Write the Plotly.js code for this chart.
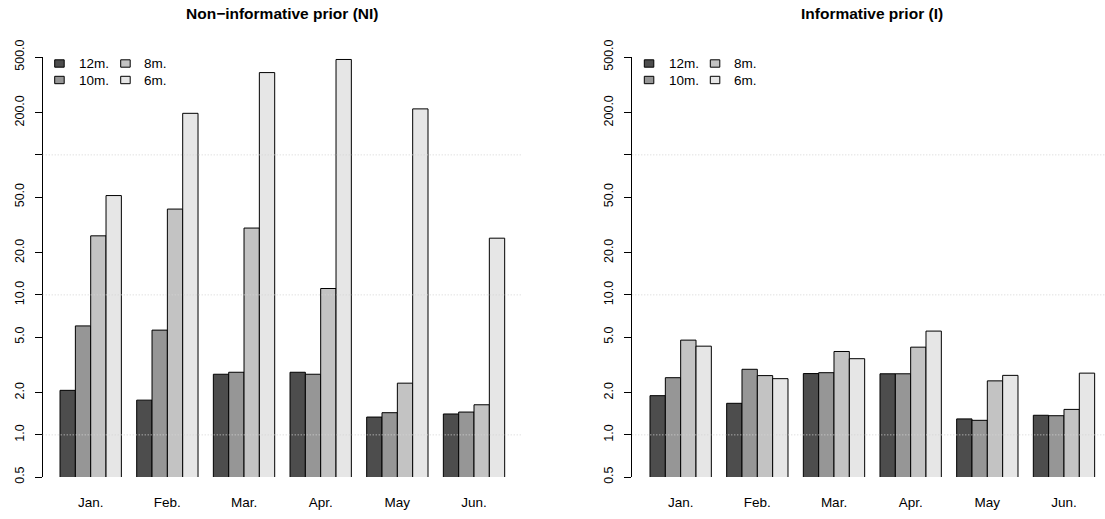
<!DOCTYPE html>
<html>
<head>
<meta charset="utf-8">
<script src="https://cdn.plot.ly/plotly-3.0.1.min.js"></script>
<style>
  html, body { margin: 0; padding: 0; background: #ffffff; }
  #chart { width: 1105px; height: 519px; }
</style>
</head>
<body>
<div id="chart"></div>
<script>
// Month groups and forecast horizons
const months = ['Jan.', 'Feb.', 'Mar.', 'Apr.', 'May', 'Jun.'];
const horizons = ['12m.', '10m.', '8m.', '6m.'];

// Non-informative prior (NI)
const ni12 = [2.08, 1.77, 2.71, 2.80, 1.34, 1.41];
const ni10 = [6.0, 5.6, 2.80, 2.71, 1.44, 1.455];
const ni8  = [26.4, 41.0, 30.0, 11.1, 2.34, 1.64];
const ni6  = [51.2, 198.0, 387.0, 480.0, 213.0, 25.4];

// Informative prior (I)
const in12 = [1.905, 1.68, 2.74, 2.73, 1.30, 1.38];
const in10 = [2.56, 2.94, 2.78, 2.73, 1.27, 1.37];
const in8  = [4.75, 2.65, 3.94, 4.23, 2.43, 1.52];
const in6  = [4.30, 2.52, 3.50, 5.51, 2.66, 2.76];

// Log-scale tick positions and their printed labels
const yTickVals = [0.5, 1, 2, 5, 10, 20, 50, 100, 200, 500];
const yTickText = ['0.5', '1.0', '2.0', '5.0', '10.0', '20.0', '50.0', '', '200.0', '500.0'];
const gridVals = [1, 10, 100];

const fills = ['#4D4D4D', '#969696', '#C3C3C3', '#E6E6E6'];
const FONT = 'Liberation Sans, Arial, Helvetica, sans-serif';

const W = 1105, H = 519;
const MT = 57, MB = 42;
const plotH = H - MT - MB;
const axisLeftPx = [42.7, 632.3];
const axisRightPx = [520.7, 1105];

const panels = [
  { series: [ni12, ni10, ni8, ni6], xa: 'x', ya: 'y', title: 'Non\u2212informative prior (NI)', titleX: 281.7 },
  { series: [in12, in10, in8, in6], xa: 'x2', ya: 'y2', title: 'Informative prior (I)', titleX: 871.5 }
];

const traces = [];
panels.forEach(function (p) {
  p.series.forEach(function (vals, k) {
    traces.push({
      type: 'bar',
      x: months,
      y: vals,
      name: horizons[k],
      xaxis: p.xa,
      yaxis: p.ya,
      showlegend: false,
      marker: { color: fills[k], line: { color: '#000000', width: 1 } },
      hoverinfo: 'x+y+name'
    });
  });
});

function px2py(py) { return (H - MB - py) / plotH; }

const shapes = [];
const annotations = [];

panels.forEach(function (p, i) {
  // dotted reference lines drawn over the bars
  gridVals.forEach(function (g) {
    shapes.push({
      type: 'line', xref: p.xa + ' domain', yref: p.ya,
      x0: 0, x1: 1, y0: g, y1: g,
      layer: 'above',
      line: { color: '#D3D3D3', width: 1, dash: '1px,2px' }
    });
  });

  // panel title
  annotations.push({
    xref: 'paper', yref: 'paper',
    x: p.titleX / W, y: px2py(14),
    xanchor: 'center', yanchor: 'middle',
    text: '<b>' + p.title + '</b>',
    showarrow: false,
    font: { family: FONT, size: 15.5, color: '#000000' }
  });

  // two-column key
  const ax = axisLeftPx[i];
  const cols = [[0, 1], [2, 3]];
  const rowY = [63.5, 80];
  cols.forEach(function (col, c) {
    col.forEach(function (k, r) {
      const bx = ax + (c === 0 ? 12 : 78);
      shapes.push({
        type: 'rect', xref: 'paper', yref: 'paper',
        x0: bx / W, x1: (bx + 9.5) / W,
        y0: px2py(rowY[r] + 3.7), y1: px2py(rowY[r] - 3.7),
        fillcolor: fills[k],
        line: { color: '#000000', width: 1 },
        layer: 'above'
      });
      annotations.push({
        xref: 'paper', yref: 'paper',
        x: (ax + (c === 0 ? 34.5 : 99.5)) / W, y: px2py(rowY[r]),
        xanchor: 'left', yanchor: 'middle',
        text: horizons[k],
        showarrow: false,
        font: { family: FONT, size: 13.5, color: '#000000' }
      });
    });
  });
});

function xAxis(i) {
  const left = axisLeftPx[i];
  const right = axisRightPx[i];
  const ranges = [[-0.626, 5.609], [-0.631, 5.535]];
  return {
    type: 'category',
    domain: [left / W, right / W],
    range: ranges[i],
    anchor: i === 0 ? 'y' : 'y2',
    showgrid: false,
    zeroline: false,
    showline: false,
    ticks: '',
    ticklabelstandoff: 15,
    tickfont: { family: FONT, size: 13.5, color: '#000000' },
    fixedrange: true,
    automargin: false
  };
}

function yAxis(i) {
  return {
    type: 'log',
    domain: [0, 1],
    range: [Math.log10(0.5), Math.log10(500)],
    anchor: i === 0 ? 'x' : 'x2',
    tickvals: yTickVals,
    ticktext: yTickText,
    tickangle: -90,
    ticks: 'outside',
    ticklen: 7,
    tickwidth: 1,
    tickcolor: '#000000',
    showline: true,
    linecolor: '#000000',
    linewidth: 1,
    showgrid: false,
    zeroline: false,
    ticklabelstandoff: 6,
    tickfont: { family: FONT, size: 12.5, color: '#000000' },
    fixedrange: true,
    automargin: false
  };
}

const layout = {
  width: W,
  height: H,
  margin: { l: 0, r: 0, t: MT, b: MB, pad: 0 },
  paper_bgcolor: '#FFFFFF',
  plot_bgcolor: 'rgba(0,0,0,0)',
  barmode: 'group',
  bargap: 0.2,
  bargroupgap: 0,
  showlegend: false,
  font: { family: FONT, color: '#000000' },
  xaxis: xAxis(0),
  yaxis: yAxis(0),
  xaxis2: xAxis(1),
  yaxis2: yAxis(1),
  shapes: shapes,
  annotations: annotations
};

Plotly.newPlot('chart', traces, layout, { displayModeBar: false, responsive: false });
</script>
</body>
</html>
